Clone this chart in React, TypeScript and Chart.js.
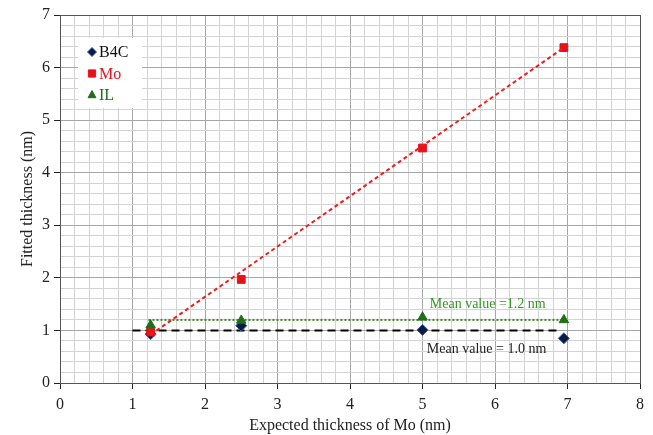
import React, { useEffect, useRef } from "react";
import { Chart, registerables } from "chart.js";
Chart.register(...registerables);

const expected = [1.25, 2.5, 5, 6.95];
const b4c = [0.93, 1.09, 1.01, 0.85];
const mo = [0.97, 1.97, 4.47, 6.38];
const il = [1.1, 1.19, 1.25, 1.2];
const fitX = [1.25, 6.95];
const fitY = [0.92, 6.38];
const mean10X = [1.0, 6.9];
const mean10 = 1.0;
const mean12X = [1.22, 6.98];
const mean12 = 1.2;
const xMax = 8;
const yMax = 7;
const minorStep = 0.2;

const FONT = "'Liberation Serif', 'Times New Roman', serif";

function marker(ctx: CanvasRenderingContext2D, s: string, x: number, y: number, r: number) {
  ctx.beginPath();
  if (s === "rectRot") {
    ctx.moveTo(x, y - r); ctx.lineTo(x + r, y); ctx.lineTo(x, y + r); ctx.lineTo(x - r, y); ctx.closePath();
  } else if (s === "rect") {
    const h = r * 0.8;
    ctx.rect(x - h, y - h, 2 * h, 2 * h);
  } else {
    ctx.moveTo(x, y - r); ctx.lineTo(x + r * 0.87, y + r * 0.6); ctx.lineTo(x - r * 0.87, y + r * 0.6); ctx.closePath();
  }
  ctx.fill();
  ctx.stroke();
}

const labelsPlugin = {
  id: "extras",
  afterDatasetsDraw(chart: any) {
    const { ctx, chartArea, scales } = chart;
    const x = scales.x, y = scales.y;
    ctx.save();
    ctx.strokeStyle = "#555";
    ctx.lineWidth = 1;
    ctx.strokeRect(chartArea.left + 0.5, chartArea.top + 0.5, chartArea.right - chartArea.left, chartArea.bottom - chartArea.top);
    ctx.font = `14px ${FONT}`;
    ctx.textBaseline = "middle";
    ctx.textAlign = "left";
    ctx.fillStyle = "#2e9a1e";
    ctx.fillText("Mean value =1.2 nm", x.getPixelForValue(5.1), y.getPixelForValue(1.5));
    ctx.fillStyle = "#222";
    ctx.fillText("Mean value = 1.0 nm", x.getPixelForValue(5.06), y.getPixelForValue(0.65));
    // legend
    const lx = 78, ly = 38;
    ctx.fillStyle = "#fff";
    ctx.fillRect(lx, ly, 64, 70);
    const items = [
      { t: "B4C", c: "#111", s: "rectRot", f: "#0d1b3e", b: "#2b5aa8" },
      { t: "Mo", c: "#e8121a", s: "rect", f: "#e8121a", b: "#e8121a" },
      { t: "IL", c: "#1e6e1a", s: "triangle", f: "#1e6e1a", b: "#1e6e1a" },
    ];
    ctx.font = `16px ${FONT}`;
    items.forEach((it, i) => {
      const cy = ly + 14 + i * 21.5;
      ctx.fillStyle = it.f;
      ctx.strokeStyle = it.b;
      ctx.lineWidth = 1;
      marker(ctx, it.s, lx + 14, cy, 4.5);
      ctx.fillStyle = it.c;
      ctx.fillText(it.t, lx + 21, cy + 1);
    });
    ctx.restore();
  },
};

const isMajor = (v: number) => Math.abs(v - Math.round(v)) < 1e-6;

function ticksFor(max: number) {
  const out: any[] = [];
  const n = Math.round(max / minorStep);
  for (let i = 0; i <= n; i++) out.push({ value: +(i * minorStep).toFixed(4) });
  return out;
}

export default function App() {
  const ref = useRef<HTMLCanvasElement>(null);
  useEffect(() => {
    const pts = (xs: number[], ys: number[]) => xs.map((x, i) => ({ x, y: ys[i] }));
    const chart = new Chart(ref.current!, {
      type: "scatter",
      data: {
        datasets: [
          { label: "fit", data: pts(fitX, fitY), showLine: true, borderColor: "#f01c1c", borderWidth: 2, borderDash: [4, 3], pointRadius: 0, order: 1 } as any,
          { label: "m10", data: pts(mean10X, [mean10, mean10]), showLine: true, borderColor: "#000", borderWidth: 2, borderDash: [8, 5], pointRadius: 0, order: 6 },
          { label: "m12", data: pts(mean12X, [mean12, mean12]), showLine: true, borderColor: "#3d8a22", borderWidth: 2, borderDash: [2, 2], pointRadius: 0, order: 5 },
          { label: "B4C", data: pts(expected, b4c), pointStyle: "rectRot", pointRadius: 5.5, backgroundColor: "#0d1b3e", borderColor: "#2b5aa8", borderWidth: 1, order: 4 },
          { label: "Mo", data: pts(expected, mo), pointStyle: "rect", pointRadius: 5.5, backgroundColor: "#e8121a", borderColor: "#e8121a", borderWidth: 1, order: 3 },
          { label: "IL", data: pts(expected, il), pointStyle: "triangle", pointRadius: 5.5, backgroundColor: "#1e6e1a", borderColor: "#1e6e1a", borderWidth: 1, order: 2 },
        ],
      },
      options: {
        responsive: false,
        animation: false,
        layout: { padding: { top: 15, right: 13, left: 0, bottom: 0 } },
        plugins: { legend: { display: false }, tooltip: { enabled: false } },
        scales: {
          x: {
            type: "linear", min: 0, max: xMax,
            afterBuildTicks: (s: any) => { s.ticks = ticksFor(xMax); },
            afterFit: (s: any) => { s.height = 52; },
            border: { color: "#222", width: 1 },
            grid: {
              color: (c: any) => (isMajor(c.tick.value) ? "#a6a6a6" : "#d3d3d3"),
              tickColor: (c: any) => (isMajor(c.tick.value) ? "#222" : "rgba(0,0,0,0)"),
              tickLength: 6,
            },
            ticks: {
              autoSkip: false, maxRotation: 0, padding: 6, color: "#222",
              font: { family: FONT, size: 16 },
              callback: (v: any) => (isMajor(+v) ? String(Math.round(+v)) : ""),
            },
            title: { display: true, text: "Expected thickness of Mo (nm)", color: "#222", font: { family: FONT, size: 16 }, padding: { top: 0, bottom: 0 } },
          },
          y: {
            type: "linear", min: 0, max: yMax,
            afterBuildTicks: (s: any) => { s.ticks = ticksFor(yMax); },
            afterFit: (s: any) => { s.width = 60; },
            border: { color: "#222", width: 1 },
            grid: {
              color: (c: any) => (isMajor(c.tick.value) ? "#a6a6a6" : "#d3d3d3"),
              tickColor: (c: any) => (isMajor(c.tick.value) ? "#222" : "rgba(0,0,0,0)"),
              tickLength: 6,
            },
            ticks: {
              autoSkip: false, padding: 4, color: "#222",
              font: { family: FONT, size: 16 },
              callback: (v: any) => (isMajor(+v) ? String(Math.round(+v)) : ""),
            },
            title: { display: true, text: "Fitted thickness (nm)", color: "#222", font: { family: FONT, size: 16 }, padding: { top: 18, bottom: 0 } },
          },
        },
      },
      plugins: [labelsPlugin],
    } as any);
    return () => chart.destroy();
  }, []);
  return (
    <div style={{ position: "fixed", left: 0, top: 0, width: 653, height: 435, background: "#fff" }}>
      <canvas ref={ref} width={653} height={435} />
    </div>
  );
}
